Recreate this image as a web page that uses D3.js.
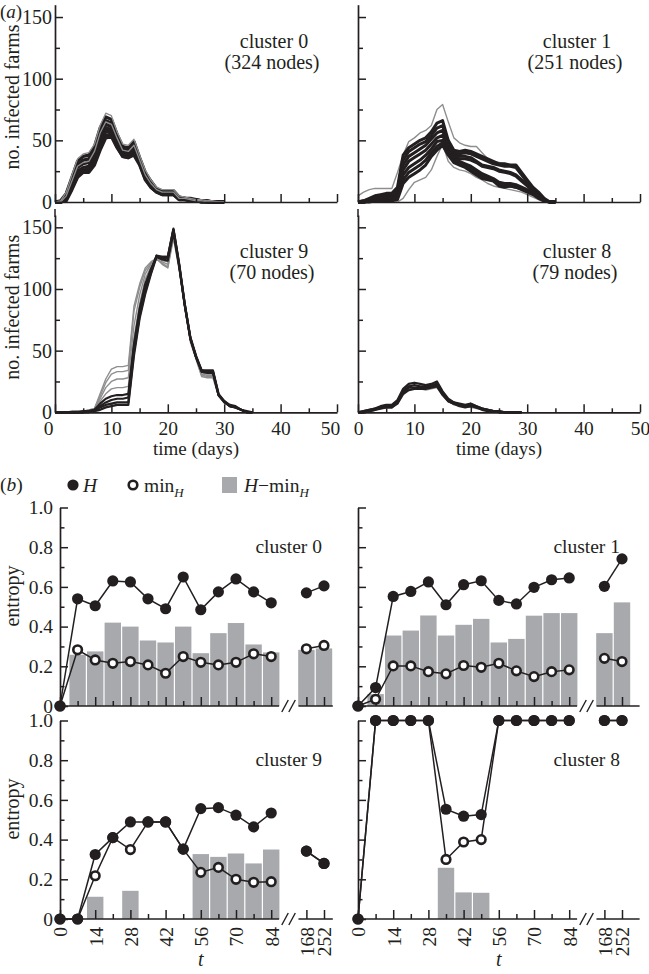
<!DOCTYPE html>
<html>
<head>
<meta charset="utf-8">
<script src="https://cdn.jsdelivr.net/npm/d3@7"></script>
<style>
  body { margin: 0; background: #fff; }
  svg text { font-family: "Liberation Serif", "Times New Roman", serif; fill: #231f20; }
</style>
</head>
<body>
<svg id="chart" width="649" height="974"></svg>
<script>
// ---------- (a) infected farms per day, a few runs per cluster ----------
const days = [0,1,2,3,4,5,6,7,8,9,10,11,12,13,14,15,16,17,18,19,20,21,22,23,24,25,26,27,28,29,30,31,32,33,34,35];

const c0Black = [
  [0,1,7,20,33,37,38,45,60,69,67,55,45,44,49,36,24,17,11,9,9,9,4,3,3,2,1,1,0,0,0],
  [0,0,6,18,30,34,35,42,57,66,64,53,43,42,47,35,23,16,10,8,8,9,4,3,2,2,1,1,0,0,0],
  [0,0,5,16,28,31,32,40,54,63,61,51,42,41,45,34,22,15,10,8,8,8,3,3,2,1,1,0,0,0,0],
  [0,0,4,14,25,28,29,37,51,60,59,49,40,39,43,33,21,14,9,7,7,8,3,2,2,1,1,0,0,0,0],
  [0,0,3,12,23,26,27,34,48,57,57,47,39,38,41,32,20,13,9,7,7,7,3,2,1,1,0,0,0,0,0],
  [0,0,2,11,21,25,25,32,45,54,55,45,37,36,39,31,19,12,8,6,6,6,2,2,1,1,0,0,0,0,0],
  [0,0,1,10,20,24,24,30,42,52,53,44,37,36,38,30,18,12,8,6,6,6,2,2,1,1,0,0,0,0,0]
];
const c0Gray = [
  [0,1,8,22,35,39,40,47,62,72,70,57,47,46,51,38,26,18,12,10,10,10,5,4,3,2,2,1,1,0,0],
  [0,0,5,17,29,32,33,41,56,65,63,52,42,41,46,34,22,15,10,8,8,8,3,3,2,1,1,0,0,0,0]
];

const c1Black = [
  [0,1,3,5,6,7,7,12,38,44,47,50,52,57,64,66,50,42,41,42,41,39,37,35,33,31,31,30,30,24,18,12,8,3,0,0],
  [0,1,2,4,5,6,6,10,34,41,44,47,49,54,60,62,48,40,39,40,39,37,35,33,31,30,29,29,28,22,16,11,7,2,0,0],
  [0,0,2,3,4,5,5,8,30,37,40,43,46,51,56,58,46,39,37,37,36,33,30,29,28,26,25,24,22,18,14,10,6,2,0,0],
  [0,0,1,2,3,4,4,6,26,33,36,39,42,47,52,54,44,37,35,35,34,32,29,28,27,25,24,23,21,17,13,9,5,1,0,0],
  [0,0,1,2,3,3,3,5,22,28,31,34,38,43,49,50,42,35,33,31,29,26,23,21,19,16,15,15,14,12,10,8,5,1,0,0],
  [0,0,1,1,2,2,2,4,18,24,27,30,34,40,45,48,40,33,31,29,27,24,21,19,18,14,13,13,12,11,9,7,4,1,0,0],
  [0,0,0,1,1,1,1,2,15,20,23,26,30,37,42,46,38,32,30,28,25,22,19,18,17,13,12,13,12,10,8,6,3,1,0,0]
];
const c1Gray = [
  [5,8,10,11,11,11,11,24,38,49,52,56,58,62,75,79,65,52,48,46,45,45,40,35,33,32,31,30,30,24,16,12,8,1,0,0],
  [0,0,0,0,0,0,0,0,3,10,16,18,20,26,37,47,33,28,26,25,23,20,18,15,13,12,11,10,9,8,6,4,2,0,0,0]
];

const c9Gray = [
  [0,0,0,1,1,1,2,3,15,27,35,37,37,38,86,104,117,122,125,120,117,141,116,85,57,43,29,28,28,13,8,5,4,2,0,0],
  [0,0,0,1,1,1,2,3,13,24,31,33,33,34,82,101,115,121,124,121,118,143,117,86,58,44,30,29,29,14,8,5,4,2,0,0],
  [0,0,0,0,1,1,1,3,11,20,25,27,27,28,70,95,112,120,124,122,120,144,118,86,59,44,31,30,30,14,8,5,4,2,0,0],
  [0,0,0,0,1,1,1,2,9,15,19,20,20,21,60,88,108,118,126,123,122,145,119,87,59,45,32,31,31,14,8,5,4,2,0,0]
];
const c9Black = [
  [0,0,0,0,0,1,1,2,7,11,13,14,14,15,55,84,104,116,126,124,123,146,119,87,60,45,33,32,32,14,8,5,4,2,0,0],
  [0,0,0,0,0,0,1,2,5,8,10,11,11,12,52,80,100,114,127,125,125,148,120,88,60,45,34,33,33,14,9,5,4,2,0,0],
  [0,0,0,0,0,0,1,1,4,6,7,8,8,8,49,78,98,113,127,126,126,149,121,88,61,46,34,34,34,15,9,6,5,2,1,0],
  [0,0,0,0,0,0,0,1,2,4,5,6,6,6,46,76,96,112,126,126,126,148,120,87,60,45,33,33,33,14,9,5,4,2,0,0]
];

const c8Black = [
  [0,1,2,3,5,6,6,10,19,23,24,23,22,23,25,17,11,8,7,6,7,5,3,2,1,1,0,0,0,0],
  [0,1,2,3,4,5,5,9,17,21,22,21,21,22,23,16,10,8,6,5,7,5,3,2,1,1,0,0,0,0],
  [0,0,1,2,4,4,4,8,16,20,20,20,20,21,22,15,9,7,6,5,6,4,3,2,1,0,0,0,0,0],
  [0,0,1,2,3,4,4,7,15,18,19,19,19,20,21,14,9,7,5,4,5,4,2,1,1,0,0,0,0,0]
];
const c8Gray = [
  [0,0,1,2,3,4,4,7,14,18,19,19,18,19,20,14,9,6,5,4,4,3,2,1,1,0,0,0,0,0]
];

// ---------- (b) entropy at sampled times ----------
const tLabels = [0,7,14,21,28,35,42,49,56,63,70,77,84,168,252];

const c0H   = [0,0.54,0.505,0.63,0.625,0.54,0.49,0.65,0.485,0.575,0.64,0.575,0.52,0.57,0.605];
const c0Min = [0,0.283,0.232,0.215,0.224,0.207,0.165,0.249,0.22,0.207,0.22,0.263,0.249,0.288,0.305];
const c0Bar = [0,0.258,0.275,0.42,0.40,0.33,0.32,0.40,0.266,0.367,0.418,0.31,0.27,0.283,0.29];

const c1H   = [0,0.093,0.552,0.577,0.625,0.51,0.611,0.631,0.532,0.514,0.598,0.636,0.645,0.603,0.741];
const c1Min = [0,0.034,0.202,0.202,0.173,0.162,0.204,0.195,0.215,0.177,0.148,0.173,0.182,0.24,0.224];
const c1Bar = [0,0.06,0.355,0.38,0.456,0.355,0.409,0.439,0.32,0.338,0.455,0.468,0.468,0.367,0.522];

const c9H   = [0,0,0.325,0.41,0.489,0.489,0.489,0.352,0.556,0.561,0.523,0.464,0.534,0.342,0.28];
const c9Min = [0,0,0.218,0.41,0.35,0.489,0.489,0.352,0.235,0.26,0.2,0.185,0.188,0.342,0.28];
const c9Bar = [0,0,0.112,0,0.142,0,0,0,0.327,0.313,0.33,0.28,0.35,0,0];

const c8H   = [0,1,1,1,1,0.553,0.518,0.526,1,1,1,1,1,1,1];
const c8Min = [0,1,1,1,1,0.30,0.388,0.40,1,1,1,1,1,1,1];
const c8Bar = [0,0,0,0,0,0.258,0.134,0.132,0,0,0,0,0,0,0];

const ink = "#231f20";
const barGrey = "#a7a9ac";
const svg = d3.select("#chart");
svg.append("rect").attr("width", 649).attr("height", 974).attr("fill", "#fff");

function styleAxis(g, size) {
  g.select(".domain").attr("stroke", ink).attr("stroke-width", 1.7);
  g.selectAll(".tick line").attr("stroke", ink).attr("stroke-width", 1.5);
  g.selectAll(".tick text").attr("fill", ink).attr("font-size", size)
    .attr("font-family", "Liberation Serif, serif");
}

// ---------------- panel (a) ----------------
function panelA(o) {
  const x = d3.scaleLinear().domain([0, 50]).range([o.x0, o.x0 + 282]);
  const y = d3.scaleLinear().domain([0, 160]).range([o.y0, o.y0 - 197.3]);
  const line = d3.line().x((v, i) => x(days[i])).y(v => y(v));
  const g = svg.append("g");

  const drawSet = (set, col, w) => g.append("g").selectAll("path").data(set).join("path")
    .attr("d", line).attr("fill", "none").attr("stroke", col)
    .attr("stroke-width", w).attr("stroke-linejoin", "round");
  if (o.grayOnTop) {
    drawSet(o.black, ink, 3.2);
    drawSet(o.gray, "#8e8e8e", 1.3);
  } else {
    drawSet(o.gray, "#8e8e8e", 1.4);
    drawSet(o.black, ink, o.bw);
  }

  // axes, ticks point inward
  const xa = g.append("g").attr("transform", `translate(0,${o.y0})`)
    .call(d3.axisBottom(x).tickValues([0,10,20,30,40,50]).tickSizeInner(-8).tickSizeOuter(0)
      .tickPadding(9).tickFormat(o.xLabels ? d3.format("d") : ""));
  styleAxis(xa, 19.5);
  xa.selectAll(".tick text").attr("dx", d => o.x0 < 100 && (d === 0 || d === 50) ? -7 : 0);
  const xm = g.append("g").attr("transform", `translate(0,${o.y0})`)
    .call(d3.axisBottom(x).tickValues([5,15,25,35,45]).tickSize(-4).tickFormat(""));
  styleAxis(xm, 19); xm.select(".domain").remove();

  const ya = g.append("g").attr("transform", `translate(${o.x0},0)`)
    .call(d3.axisLeft(y).tickValues([0,50,100,150]).tickSizeInner(-8).tickSizeOuter(0)
      .tickPadding(3).tickFormat(o.yLabels ? d3.format("d") : ""));
  styleAxis(ya, 20);
  const ym = g.append("g").attr("transform", `translate(${o.x0},0)`)
    .call(d3.axisLeft(y).tickValues([25,75,125]).tickSize(-5).tickFormat(""));
  styleAxis(ym, 20); ym.select(".domain").remove();

  if (!o.xLabels) {
    g.append("line").attr("x1", x(0)).attr("x2", x(0))
      .attr("y1", o.y0 + 7).attr("y2", o.y0 + 15).attr("stroke", ink).attr("stroke-width", 1.5);
  }

  const lab = g.append("text").attr("text-anchor", "middle").attr("font-size", 20);
  lab.append("tspan").attr("x", o.x0 + 219).attr("y", o.y0 - 154).text(o.name);
  lab.append("tspan").attr("x", o.x0 + 217).attr("y", o.y0 - 133).text(o.nodes);

  if (o.xLabels) {
    g.append("text").attr("x", x(25)).attr("y", o.y0 + 43).attr("text-anchor", "middle")
      .attr("font-size", 19).text("time (days)");
  }
  if (o.yLabels) {
    g.append("text").attr("transform", `translate(19,${o.y0 - 105}) rotate(-90)`)
      .attr("text-anchor", "middle").attr("font-size", 20).text("no. infected farms");
  }
}

panelA({x0: 55,  y0: 202,   black: c0Black, gray: c0Gray, grayOnTop: true,  bw: 3.2,
        name: "cluster 0", nodes: "(324 nodes)", yLabels: true,  xLabels: false});
panelA({x0: 358, y0: 202,   black: c1Black, gray: c1Gray, grayOnTop: false, bw: 3,
        name: "cluster 1", nodes: "(251 nodes)", yLabels: false, xLabels: false});
panelA({x0: 55,  y0: 412.3, black: c9Black, gray: c9Gray, grayOnTop: false, bw: 2.2,
        name: "cluster 9", nodes: "(70 nodes)",  yLabels: true,  xLabels: true});
panelA({x0: 358, y0: 412.3, black: c8Black, gray: c8Gray, grayOnTop: false, bw: 2.2,
        name: "cluster 8", nodes: "(79 nodes)",  yLabels: false, xLabels: true});

svg.append("text").attr("x", 0).attr("y", 18).attr("font-size", 19)
  .html('(<tspan font-style="italic">a</tspan>)');

// ---------------- panel (b) ----------------
// slot on the broken x axis: 0..84 every 7 days, then a gap, then 168 and 252
const slot = i => (i < 13 ? i : i + 1);

function panelB(o) {
  const x = d3.scaleLinear().domain([0, 16]).range([o.x0, o.x0 + 281.6]);
  const y = d3.scaleLinear().domain([0, 1]).range([o.y0, o.y0 - 198.5]);
  const g = svg.append("g");
  const pts = tLabels.map((t, i) => ({i, t, h: o.H[i], m: o.Min[i], b: o.Bar[i]}));

  // bars H - min_H
  g.append("g").selectAll("rect").data(pts.filter(d => d.b > 0)).join("rect")
    .attr("x", d => x(slot(d.i)) - 8.2).attr("width", 16.4)
    .attr("y", d => y(d.b)).attr("height", d => y(0) - y(d.b)).attr("fill", barGrey);

  // axes
  const ticksAll = tLabels.map((t, i) => slot(i));
  const isMajor = s => { const t = tLabels[s < 13 ? s : s - 1]; return t % 14 === 0; };
  const xa = g.append("g").attr("transform", `translate(0,${o.y0})`)
    .call(d3.axisBottom(x).tickValues(ticksAll.filter(isMajor)).tickSizeInner(-9).tickSizeOuter(0)
      .tickPadding(8).tickFormat(o.xLabels ? (s => tLabels[s < 13 ? s : s - 1]) : ""));
  styleAxis(xa, 19.5);
  xa.select(".domain").remove();
  xa.selectAll(".tick text").attr("transform", "rotate(-90)").attr("x", -8).attr("y", 0)
    .attr("dy", "0.35em").attr("text-anchor", "end");
  const xm = g.append("g").attr("transform", `translate(0,${o.y0})`)
    .call(d3.axisBottom(x).tickValues(ticksAll.filter(s => !isMajor(s))).tickSize(-5).tickFormat(""));
  styleAxis(xm, 19); xm.select(".domain").remove();

  // axis line in two pieces with a // break
  g.append("g").selectAll("line").data([[0, 12.45], [13.55, o.end]]).join("line")
    .attr("x1", d => x(d[0])).attr("x2", d => x(d[1]))
    .attr("y1", o.y0).attr("y2", o.y0).attr("stroke", ink).attr("stroke-width", 1.7);
  g.append("g").selectAll("line").data([-0.2, 0.2]).join("line")
    .attr("x1", d => x(13 + d) - 3.5).attr("x2", d => x(13 + d) + 3)
    .attr("y1", o.y0 + 6).attr("y2", o.y0 - 6).attr("stroke", ink).attr("stroke-width", 1.4);

  const ya = g.append("g").attr("transform", `translate(${o.x0},0)`)
    .call(d3.axisLeft(y).tickValues([0,0.2,0.4,0.6,0.8,1]).tickSizeInner(-8).tickSizeOuter(0)
      .tickPadding(7).tickFormat(o.yLabels ? (v => v === 0 ? "0" : d3.format(".1f")(v)) : ""));
  styleAxis(ya, 19.5);
  const ym = g.append("g").attr("transform", `translate(${o.x0},0)`)
    .call(d3.axisLeft(y).tickValues([0.1,0.3,0.5,0.7,0.9]).tickSize(-4.5).tickFormat(""));
  styleAxis(ym, 19); ym.select(".domain").remove();

  // lines (two segments each: 0..84 and 168..252)
  const seg = [pts.slice(0, 13), pts.slice(13)];
  const lineH = d3.line().x(d => x(slot(d.i))).y(d => y(d.h));
  const lineM = d3.line().x(d => x(slot(d.i))).y(d => y(d.m));
  g.append("g").selectAll("path").data(seg).join("path").attr("d", lineM)
    .attr("fill", "none").attr("stroke", ink).attr("stroke-width", 1.5);
  g.append("g").selectAll("path").data(seg).join("path").attr("d", lineH)
    .attr("fill", "none").attr("stroke", ink).attr("stroke-width", 1.5);

  g.append("g").selectAll("circle").data(pts).join("circle")
    .attr("cx", d => x(slot(d.i))).attr("cy", d => y(d.m)).attr("r", 4.3)
    .attr("fill", "#fff").attr("stroke", ink).attr("stroke-width", 2.6);
  g.append("g").selectAll("circle").data(pts).join("circle")
    .attr("cx", d => x(slot(d.i))).attr("cy", d => y(d.h)).attr("r", 5.6).attr("fill", ink);

  g.append("text").attr("x", o.x0 + 262).attr("y", o.y0 - 153).attr("text-anchor", "end")
    .attr("font-size", 19.5).text(o.name);

  if (o.yLabels) {
    g.append("text").attr("transform", `translate(19,${o.y0 - 110}) rotate(-90)`)
      .attr("text-anchor", "middle").attr("font-size", 20).text("entropy");
  }
  if (o.xLabels) {
    g.append("text").attr("x", x(8)).attr("y", o.y0 + 47).attr("text-anchor", "middle")
      .attr("font-size", 20).attr("font-style", "italic").text("t");
  }
}

panelB({x0: 60,  y0: 706, H: c0H, Min: c0Min, Bar: c0Bar, name: "cluster 0", yLabels: true,  xLabels: false, end: 15.5});
panelB({x0: 358, y0: 706, H: c1H, Min: c1Min, Bar: c1Bar, name: "cluster 1", yLabels: false, xLabels: false, end: 16});
panelB({x0: 60,  y0: 919, H: c9H, Min: c9Min, Bar: c9Bar, name: "cluster 9", yLabels: true,  xLabels: true,  end: 15.5});
panelB({x0: 358, y0: 919, H: c8H, Min: c8Min, Bar: c8Bar, name: "cluster 8", yLabels: false, xLabels: true,  end: 16});

// legend for (b)
const leg = svg.append("g").attr("font-size", 19.5);
leg.append("text").attr("x", 0).attr("y", 491).html('(<tspan font-style="italic">b</tspan>)');
leg.append("circle").attr("cx", 73).attr("cy", 485).attr("r", 5.6).attr("fill", ink);
leg.append("text").attr("x", 83).attr("y", 492).attr("font-style", "italic").text("H");
leg.append("circle").attr("cx", 133).attr("cy", 485).attr("r", 4.3)
  .attr("fill", "#fff").attr("stroke", ink).attr("stroke-width", 2.6);
leg.append("text").attr("x", 144).attr("y", 492)
  .html('min<tspan font-style="italic" font-size="13" dy="5">H</tspan>');
leg.append("rect").attr("x", 222).attr("y", 477).attr("width", 15).attr("height", 16).attr("fill", barGrey);
leg.append("text").attr("x", 244).attr("y", 492)
  .html('<tspan font-style="italic">H</tspan>\u2212min<tspan font-style="italic" font-size="13" dy="5">H</tspan>');
</script>
</body>
</html>
